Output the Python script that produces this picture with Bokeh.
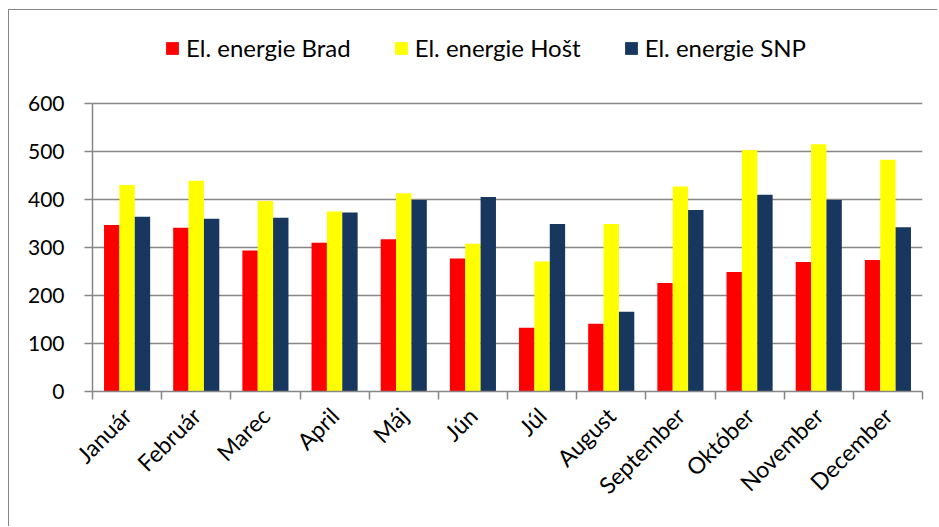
import math
from bokeh.plotting import figure
from bokeh.models import (ColumnDataSource, FixedTicker, Legend, LegendItem, Range1d)
from bokeh.embed import file_html
from bokeh.resources import INLINE

months = ["Január", "Február", "Marec", "April", "Máj", "Jún", "Júl",
          "August", "September", "Október", "November", "December"]
brad = [347, 341, 294, 310, 317, 277, 133, 141, 226, 249, 270, 274]
host = [430, 439, 397, 375, 413, 308, 271, 349, 427, 503, 515, 483]
snp = [364, 360, 362, 373, 399, 405, 349, 166, 378, 410, 399, 342]
series_names = ["El. energie Brad", "El. energie Hošt", "El. energie SNP"]
series_colors = ["#FF0000", "#FFFF00", "#17375E"]
y_ticks = [0, 100, 200, 300, 400, 500, 600]

FONT = "Lato"
bar_w = 1 / 4.5
centers = [i + 0.5 for i in range(len(months))]

# frame: axis area 288px tall for 0..600, extended upward to hold the legend
AXIS_PX = 288
FRAME_PX = 367
y_top = y_ticks[-1] * FRAME_PX / AXIS_PX

p = figure(width=929, height=517, output_backend="svg", toolbar_location=None,
           x_range=Range1d(0, len(months)), y_range=Range1d(0, y_top),
           min_border_left=83, min_border_top=517 - 136 - FRAME_PX,
           min_border_right=16, min_border_bottom=136)
p.styles = {"margin-left": "8px", "margin-top": "9px",
            "border-left": "1px solid #868686", "border-top": "1px solid #868686"}
p.outline_line_color = None
p.background_fill_color = "white"
p.border_fill_color = "white"

renderers = []
for k, (vals, col) in enumerate(zip([brad, host, snp], series_colors)):
    off = (k - 1) * bar_w
    src = ColumnDataSource(dict(x=[c + off for c in centers], top=vals))
    r = p.vbar(x="x", top="top", width=bar_w, bottom=0, source=src,
               fill_color=col, line_color=None)
    renderers.append(r)

# x axis
p.xaxis.ticker = FixedTicker(ticks=centers, minor_ticks=list(range(len(months) + 1)))
p.xaxis.major_label_overrides = {c: m for c, m in zip(centers, months)}
p.xaxis.major_tick_line_color = None
p.xaxis.minor_tick_line_color = "#868686"
p.xaxis.minor_tick_line_width = 1.5
p.xaxis.minor_tick_out = 8
p.xaxis.minor_tick_in = 0
p.xaxis.axis_line_color = "#868686"
p.xaxis.axis_line_width = 1.5
p.xaxis.major_label_orientation = math.pi / 4
p.xaxis.major_label_text_font = FONT
p.xaxis.major_label_text_font_size = "23px"
p.xaxis.major_label_text_color = "black"
p.xaxis.major_label_standoff = 12

# y axis
p.yaxis.ticker = FixedTicker(ticks=y_ticks)
p.yaxis.bounds = (y_ticks[0], y_ticks[-1])
p.yaxis.minor_tick_line_color = None
p.yaxis.major_tick_line_color = "#868686"
p.yaxis.major_tick_line_width = 1.5
p.yaxis.major_tick_out = 8
p.yaxis.major_tick_in = 0
p.yaxis.axis_line_color = "#868686"
p.yaxis.axis_line_width = 1.5
p.yaxis.major_label_text_font = FONT
p.yaxis.major_label_text_font_size = "21px"
p.yaxis.major_label_text_color = "black"
p.yaxis.major_label_standoff = 20

p.xgrid.grid_line_color = None
p.ygrid.ticker = FixedTicker(ticks=y_ticks)
p.ygrid.grid_line_color = "#868686"
p.ygrid.grid_line_width = 1.5

legend = Legend(items=[LegendItem(label=n, renderers=[r]) for n, r in zip(series_names, renderers)],
                orientation="horizontal", location=(72, 329),
                glyph_width=16, glyph_height=16, label_height=16,
                label_standoff=6, spacing=42, padding=0, margin=0,
                border_line_color=None, background_fill_alpha=0,
                label_text_font=FONT, label_text_font_size="24px",
                label_text_color="black")
p.add_layout(legend, "center")

open("out.html", "w").write(file_html(p, INLINE))
